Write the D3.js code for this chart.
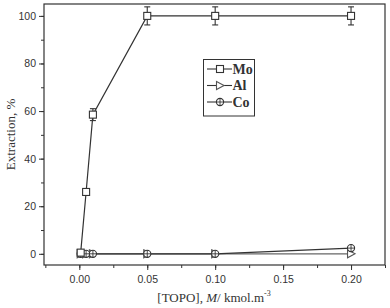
<!DOCTYPE html>
<html lang="en">
<head>
<meta charset="utf-8" />
<title>Extraction vs TOPO</title>
<style>
  body { margin: 0; background: #fff; }
  .tick text { font: 10.5px "Liberation Sans", Arial, sans-serif; fill: #333; }
  .axis path, .axis line { stroke: #333; }
</style>
</head>
<body>
<div id="chart"></div>
<script src="https://d3js.org/d3.v7.min.js"></script>
<script>
var topo = [0.001, 0.005, 0.01, 0.05, 0.1, 0.2];
var mo = [0.5, 26, 58.5, 100, 100, 100];
var moErr = [0, 0, 2.5, 3.8, 3.8, 3.8];
var al = [0, 0, 0, 0, 0, 0];
var co = [0, 0, 0, 0, 0, 2.4];
var xTicks = [0, 0.05, 0.1, 0.15, 0.2];
var yTicks = [0, 20, 40, 60, 80, 100];

var width = 390, height = 308;
var pLeft = 44, pRight = 385, pTop = 4, pBottom = 265;

var svg = d3.select('#chart').append('svg')
  .attr('width', width).attr('height', height);

var x = d3.scaleLinear().domain([-0.026, 0.225]).range([pLeft, pRight]);
var y = d3.scaleLinear().domain([-4.7, 105]).range([pBottom, pTop]);

// minor ticks
var xMinor = d3.range(-0.025, 0.226, 0.025);
var yMinor = d3.range(0, 101, 10);

svg.append('g').attr('class', 'axis')
  .attr('transform', 'translate(0,' + pBottom + ')')
  .call(d3.axisBottom(x).tickValues(xMinor).tickSize(3).tickFormat(''))
  .call(function(g) { g.select('.domain').remove(); });
svg.append('g').attr('class', 'axis')
  .attr('transform', 'translate(0,' + pBottom + ')')
  .call(d3.axisBottom(x).tickValues(xTicks).tickSize(5).tickPadding(6).tickFormat(d3.format('.2f')))
  .call(function(g) { g.select('.domain').remove(); });

svg.append('g').attr('class', 'axis')
  .attr('transform', 'translate(' + pLeft + ',0)')
  .call(d3.axisLeft(y).tickValues(yMinor).tickSize(3).tickFormat(''))
  .call(function(g) { g.select('.domain').remove(); });
svg.append('g').attr('class', 'axis')
  .attr('transform', 'translate(' + pLeft + ',0)')
  .call(d3.axisLeft(y).tickValues(yTicks).tickSize(5).tickPadding(3))
  .call(function(g) { g.select('.domain').remove(); });

// frame
svg.append('rect')
  .attr('x', pLeft).attr('y', pTop)
  .attr('width', pRight - pLeft).attr('height', pBottom - pTop)
  .attr('fill', 'none').attr('stroke', '#333').attr('stroke-width', 1.2);

var line = d3.line().x(function(d) { return x(d[0]); }).y(function(d) { return y(d[1]); });
function pts(vals) { return topo.map(function(t, i) { return [t, vals[i]]; }); }

// lines
svg.append('path').datum(pts(al)).attr('d', line)
  .attr('fill', 'none').attr('stroke', '#666').attr('stroke-width', 1.2);
svg.append('path').datum(pts(co)).attr('d', line)
  .attr('fill', 'none').attr('stroke', '#333').attr('stroke-width', 1.2);
svg.append('path').datum(pts(mo)).attr('d', line)
  .attr('fill', 'none').attr('stroke', '#333').attr('stroke-width', 1.2);

// error bars
var eb = svg.append('g').attr('stroke', '#333').attr('stroke-width', 1.1);
topo.forEach(function(t, i) {
  if (!moErr[i]) return;
  var cx = x(t), y0 = y(mo[i] - moErr[i]), y1 = y(mo[i] + moErr[i]);
  eb.append('line').attr('x1', cx).attr('x2', cx).attr('y1', y0).attr('y2', y1);
  eb.append('line').attr('x1', cx - 3).attr('x2', cx + 3).attr('y1', y0).attr('y2', y0);
  eb.append('line').attr('x1', cx - 3).attr('x2', cx + 3).attr('y1', y1).attr('y2', y1);
});

function square(g, cx, cy) {
  g.append('rect').attr('x', cx - 3.5).attr('y', cy - 3.5).attr('width', 7).attr('height', 7)
    .attr('fill', '#fff').attr('stroke', '#333').attr('stroke-width', 1.1);
}
function tri(g, cx, cy) {
  g.append('path').attr('d', 'M' + (cx - 3.5) + ',' + (cy - 4) + 'L' + (cx + 4) + ',' + cy + 'L' + (cx - 3.5) + ',' + (cy + 4) + 'Z')
    .attr('fill', '#fff').attr('stroke', '#555').attr('stroke-width', 1.1);
}
function circ(g, cx, cy) {
  g.append('circle').attr('cx', cx).attr('cy', cy).attr('r', 3.6)
    .attr('fill', '#fff').attr('stroke', '#333').attr('stroke-width', 1.1);
  g.append('path').attr('d', 'M' + (cx - 3.6) + ',' + cy + 'H' + (cx + 3.6) + 'M' + cx + ',' + (cy - 3.6) + 'V' + (cy + 3.6))
    .attr('stroke', '#333').attr('stroke-width', 0.9);
}

var mk = svg.append('g');
topo.forEach(function(t, i) { tri(mk, x(t), y(al[i])); });
topo.forEach(function(t, i) { circ(mk, x(t), y(co[i])); });
topo.forEach(function(t, i) { square(mk, x(t), y(mo[i])); });

// legend
var lg = svg.append('g');
lg.append('rect').attr('x', 203.5).attr('y', 59.5).attr('width', 51).attr('height', 56.5)
  .attr('fill', '#fff').attr('stroke', '#333').attr('stroke-width', 1);
var names = ['Mo', 'Al', 'Co'];
var draws = [square, tri, circ];
names.forEach(function(n, i) {
  var cy = 69 + i * 16.5;
  lg.append('line').attr('x1', 207).attr('x2', 232).attr('y1', cy).attr('y2', cy)
    .attr('stroke', '#333').attr('stroke-width', 1.1);
  draws[i](lg, 220, cy);
  lg.append('text').attr('x', 232.5).attr('y', cy + 4.8)
    .attr('font-family', '"Liberation Serif", "Times New Roman", serif')
    .attr('font-weight', 'bold').attr('font-size', 14).attr('fill', '#333').text(n);
});

// axis titles
svg.append('text')
  .attr('transform', 'translate(15,' + ((pTop + pBottom) / 2) + ') rotate(-90)')
  .attr('text-anchor', 'middle')
  .attr('font-family', '"Liberation Serif", "Times New Roman", serif')
  .attr('font-size', 13).attr('fill', '#333')
  .text('Extraction, %');

var xt = svg.append('text')
  .attr('x', 214).attr('y', 302)
  .attr('text-anchor', 'middle')
  .attr('font-family', '"Liberation Serif", "Times New Roman", serif')
  .attr('font-size', 13).attr('fill', '#333');
xt.append('tspan').text('[TOPO], ');
xt.append('tspan').attr('font-style', 'italic').text('M');
xt.append('tspan').text('/ kmol.m');
xt.append('tspan').attr('font-size', 8).attr('dy', -6).text('-3');
</script>
</body>
</html>
